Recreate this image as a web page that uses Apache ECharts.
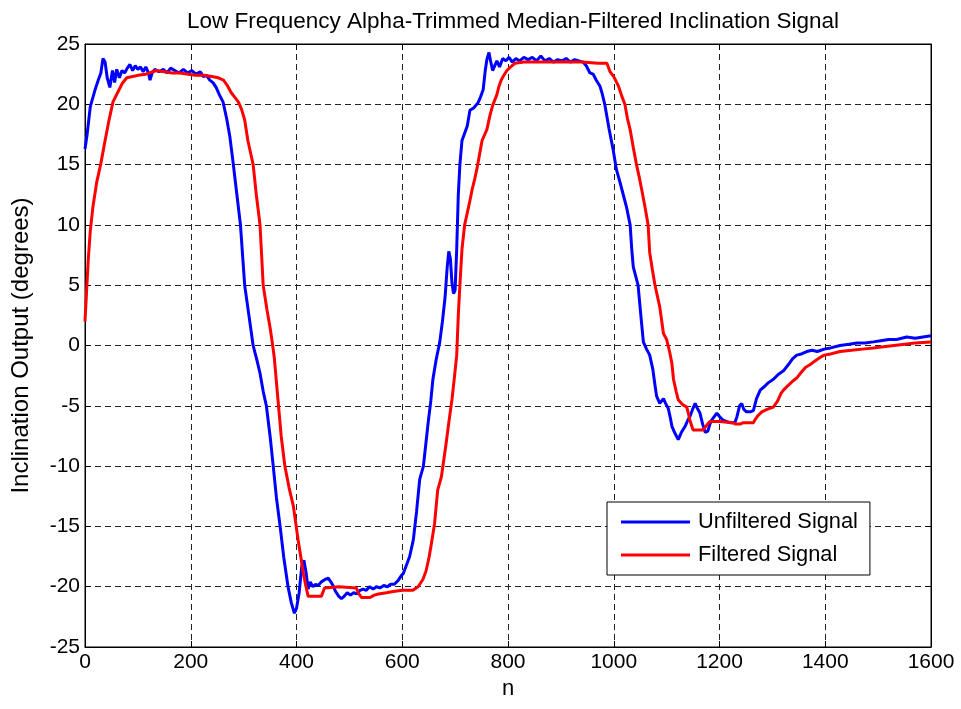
<!DOCTYPE html>
<html>
<head>
<meta charset="utf-8">
<script src="https://cdn.jsdelivr.net/npm/echarts@6/dist/echarts.min.js"></script>
<style>html,body{margin:0;padding:0;background:#fff;}#c{width:961px;height:709px;}</style>
</head>
<body>
<div id="c"></div>
<script>
var titleText = 'Low Frequency Alpha-Trimmed Median-Filtered Inclination Signal';
var xName = 'n';
var yName = 'Inclination Output (degrees)';
var seriesNames = ['Unfiltered Signal', 'Filtered Signal'];
var xTicks = [0, 200, 400, 600, 800, 1000, 1200, 1400, 1600];
var yTicks = [-25, -20, -15, -10, -5, 0, 5, 10, 15, 20, 25];

var blueN = [0,4,10,19,25,30,34,38,42,47,52,56,60,65,70,75,80,85,90,95,100,105,110,115,120,123,127,132,140,148,155,162,170,178,186,194,202,210,218,224,230,236,242,248,254,261,268,274,280,287,294,302,310,318,325,331,337,343,350,356,362,369,376,384,390,396,400,405,410,414,418,422,426,431,436,441,447,454,460,465,469,474,480,485,490,496,502,508,514,520,526,532,538,545,551,558,565,572,578,585,592,598,602,608,614,621,627,633,640,645,649,654,658,664,671,676,681,685,688,691,694,697,700,703,706,709,713,718,723,728,735,743,748,753,757,760,764,767,771,775,779,784,790,796,802,808,815,822,830,838,846,854,862,870,878,886,894,902,910,918,926,934,942,948,955,961,967,974,978,983,991,999,1005,1012,1018,1024,1031,1034,1037,1046,1051,1056,1062,1068,1074,1078,1081,1087,1094,1098,1103,1107,1110,1116,1122,1128,1135,1140,1144,1149,1154,1158,1163,1168,1173,1178,1182,1185,1190,1195,1200,1207,1213,1220,1229,1233,1238,1242,1246,1251,1258,1264,1270,1277,1285,1292,1302,1311,1321,1330,1338,1346,1355,1365,1375,1385,1398,1410,1428,1445,1460,1475,1491,1505,1520,1535,1554,1570,1585,1600];
var blueV = [16.3,17.5,19.8,21.2,22.0,22.6,23.8,23.5,22.2,21.4,22.8,21.8,22.9,22.2,22.8,22.6,23.0,23.3,22.8,23.2,22.9,23.1,22.7,23.1,22.6,22.0,22.6,22.9,22.7,22.9,22.6,23.0,22.8,22.6,22.9,22.6,22.8,22.5,22.7,22.3,22.4,22.0,21.8,21.4,20.8,20.2,18.8,17.3,15.2,12.6,10.0,5.0,2.5,0.0,-1.2,-2.3,-3.8,-5.0,-7.5,-10.0,-12.6,-15.0,-17.6,-20.0,-21.3,-22.2,-21.8,-20.5,-18.3,-17.8,-18.8,-20.2,-19.6,-20.0,-19.8,-19.9,-19.6,-19.4,-19.3,-19.6,-19.9,-20.4,-20.8,-21.0,-20.8,-20.5,-20.7,-20.5,-20.6,-20.3,-20.2,-20.3,-20.0,-20.2,-20.0,-20.1,-19.9,-20.0,-19.8,-19.8,-19.5,-19.1,-18.9,-18.2,-17.5,-16.1,-13.8,-11.1,-10.0,-8.0,-6.4,-4.6,-2.8,-1.2,0.3,2.0,4.0,6.5,7.8,7.2,5.2,4.3,4.6,8.0,12.5,15.0,17.0,17.6,18.2,19.5,19.7,20.1,20.6,21.2,22.8,23.7,24.3,23.6,22.8,23.2,23.6,23.1,23.8,23.6,23.9,23.5,23.8,23.6,23.9,23.7,23.9,23.6,24.0,23.6,23.8,23.5,23.7,23.6,23.8,23.5,23.7,23.6,23.5,23.2,22.6,22.5,22.0,21.5,20.9,20.0,18.0,16.2,14.6,13.5,12.5,11.5,10.0,8.0,6.5,5.0,2.6,0.3,-0.3,-0.8,-2.0,-3.3,-4.2,-4.8,-4.4,-4.8,-5.2,-6.0,-6.7,-7.3,-7.8,-7.2,-6.7,-6.2,-5.9,-5.3,-4.8,-5.2,-5.6,-6.5,-7.2,-7.1,-6.5,-6.2,-5.9,-5.6,-5.9,-6.2,-6.3,-6.4,-6.4,-5.9,-5.0,-4.8,-5.3,-5.5,-5.5,-5.4,-4.4,-3.7,-3.4,-3.1,-2.8,-2.4,-2.1,-1.6,-1.1,-0.8,-0.7,-0.5,-0.4,-0.5,-0.3,-0.2,0.0,0.1,0.2,0.2,0.3,0.4,0.5,0.5,0.7,0.6,0.7,0.8];

var redN = [0,3,6,10,15,22,30,38,45,53,62,70,79,90,100,115,128,135,150,165,180,195,210,225,240,252,262,270,276,283,290,296,302,308,313,318,324,331,337,344,350,354,358,365,371,378,386,394,403,408,413,418,422,447,453,480,513,518,523,539,547,555,570,583,600,620,630,639,645,651,656,661,667,674,683,688,694,699,703,706,709,713,718,722,727,732,737,741,746,751,760,763,766,771,779,783,787,792,798,805,813,830,860,900,940,970,987,993,1000,1009,1015,1021,1026,1031,1037,1043,1048,1053,1059,1065,1068,1073,1078,1087,1094,1100,1106,1110,1113,1118,1122,1130,1138,1141,1144,1150,1169,1176,1182,1200,1225,1230,1240,1245,1264,1268,1273,1280,1290,1302,1310,1316,1321,1330,1340,1346,1355,1363,1371,1380,1390,1398,1410,1428,1450,1470,1491,1510,1530,1550,1570,1600];
var redV = [2.0,4.5,7.0,9.5,11.5,13.5,15.1,17.0,18.6,20.2,21.0,21.7,22.2,22.3,22.4,22.5,22.7,22.8,22.7,22.6,22.6,22.5,22.4,22.4,22.3,22.2,22.0,21.5,21.0,20.6,20.2,19.6,18.7,17.0,16.0,15.0,12.5,10.0,5.0,3.0,1.5,0.3,-1.0,-4.5,-7.5,-10.0,-11.8,-13.3,-16.1,-17.5,-18.9,-20.0,-20.8,-20.8,-20.1,-20.0,-20.1,-20.6,-20.9,-20.9,-20.7,-20.6,-20.5,-20.4,-20.3,-20.3,-20.0,-19.4,-18.7,-17.5,-16.2,-14.8,-12.0,-10.9,-8.1,-6.4,-4.5,-2.5,-0.8,2.5,5.0,8.0,10.0,10.8,11.8,12.9,13.8,14.6,15.8,17.0,17.9,18.5,19.1,19.9,20.8,21.5,22.0,22.4,22.8,23.1,23.4,23.5,23.5,23.5,23.5,23.4,23.4,22.7,22.3,21.5,20.7,20.0,18.8,17.9,16.4,15.0,14.0,12.9,11.5,10.0,7.7,6.3,5.0,3.2,1.0,0.5,-0.6,-1.5,-2.8,-3.8,-4.5,-4.9,-5.1,-5.6,-6.2,-7.0,-7.0,-6.6,-6.3,-6.3,-6.4,-6.5,-6.5,-6.4,-6.4,-6.1,-5.8,-5.5,-5.3,-5.1,-4.6,-4.0,-3.7,-3.3,-2.9,-2.7,-2.2,-1.8,-1.6,-1.3,-1.0,-0.8,-0.7,-0.5,-0.4,-0.3,-0.2,-0.1,0.0,0.1,0.2,0.3];

function pairs(ns, vs) { return ns.map(function (n, i) { return [n, vs[i]]; }); }

var FONT = 'Liberation Sans, Arial, sans-serif';
var chart = echarts.init(document.getElementById('c'), null, { renderer: 'canvas' });

var gridLine = { show: true, lineStyle: { color: '#222', width: 1, type: [6, 4] } };
var tickIn = { show: true, inside: true, length: 6, lineStyle: { color: '#000', width: 1 } };
var axLine = { show: true, onZero: false, lineStyle: { color: '#000' } };
var plain = function (v) { return String(v); };

chart.setOption({
  animation: false,
  backgroundColor: '#fff',
  title: {
    text: titleText,
    left: 508, top: 5, textAlign: 'center',
    textStyle: { fontFamily: FONT, fontSize: 22.5, fontWeight: 'normal', color: '#000' }
  },
  legend: {
    orient: 'vertical',
    left: 607, top: 502,
    backgroundColor: '#fff',
    borderColor: '#000', borderWidth: 1,
    padding: [9, 12, 9, 14],
    itemWidth: 69, itemHeight: 3, itemGap: 11,
    icon: 'rect',
    textStyle: { fontFamily: FONT, fontSize: 21.8, color: '#000', padding: [0, 0, 0, 3] },
    data: seriesNames
  },
  grid: { left: 85, right: 30, top: 44, bottom: 62, show: true, borderColor: '#000', borderWidth: 1, backgroundColor: '#fff' },
  xAxis: [{
    type: 'value', min: 0, max: 1600, interval: 200,
    name: xName, nameLocation: 'middle', nameGap: 31,
    nameTextStyle: { fontFamily: FONT, fontSize: 22, color: '#000' },
    axisLine: axLine,
    axisTick: tickIn,
    axisLabel: { fontFamily: FONT, fontSize: 21, color: '#000', margin: 5, formatter: plain },
    splitLine: gridLine
  }, {
    type: 'value', min: 0, max: 1600, interval: 200, position: 'top',
    axisLine: axLine,
    axisTick: tickIn, axisLabel: { show: false }, splitLine: { show: false }
  }],
  yAxis: [{
    type: 'value', min: -25, max: 25, interval: 5,
    name: yName, nameLocation: 'middle', nameGap: 52,
    nameTextStyle: { fontFamily: FONT, fontSize: 24, color: '#000' },
    axisLine: axLine,
    axisTick: tickIn,
    axisLabel: { fontFamily: FONT, fontSize: 21, color: '#000', margin: 5, formatter: plain },
    splitLine: gridLine
  }, {
    type: 'value', min: -25, max: 25, interval: 5, position: 'right',
    axisLine: axLine,
    axisTick: tickIn, axisLabel: { show: false }, splitLine: { show: false }
  }],
  series: [{
    name: seriesNames[0], type: 'line', xAxisIndex: 0, yAxisIndex: 0,
    showSymbol: false, symbol: 'none',
    lineStyle: { color: '#0000ff', width: 3 }, itemStyle: { color: '#0000ff' },
    data: pairs(blueN, blueV)
  }, {
    name: seriesNames[1], type: 'line', xAxisIndex: 0, yAxisIndex: 0,
    showSymbol: false, symbol: 'none',
    lineStyle: { color: '#ff0000', width: 3 }, itemStyle: { color: '#ff0000' },
    data: pairs(redN, redV)
  }]
});
</script>
</body>
</html>
